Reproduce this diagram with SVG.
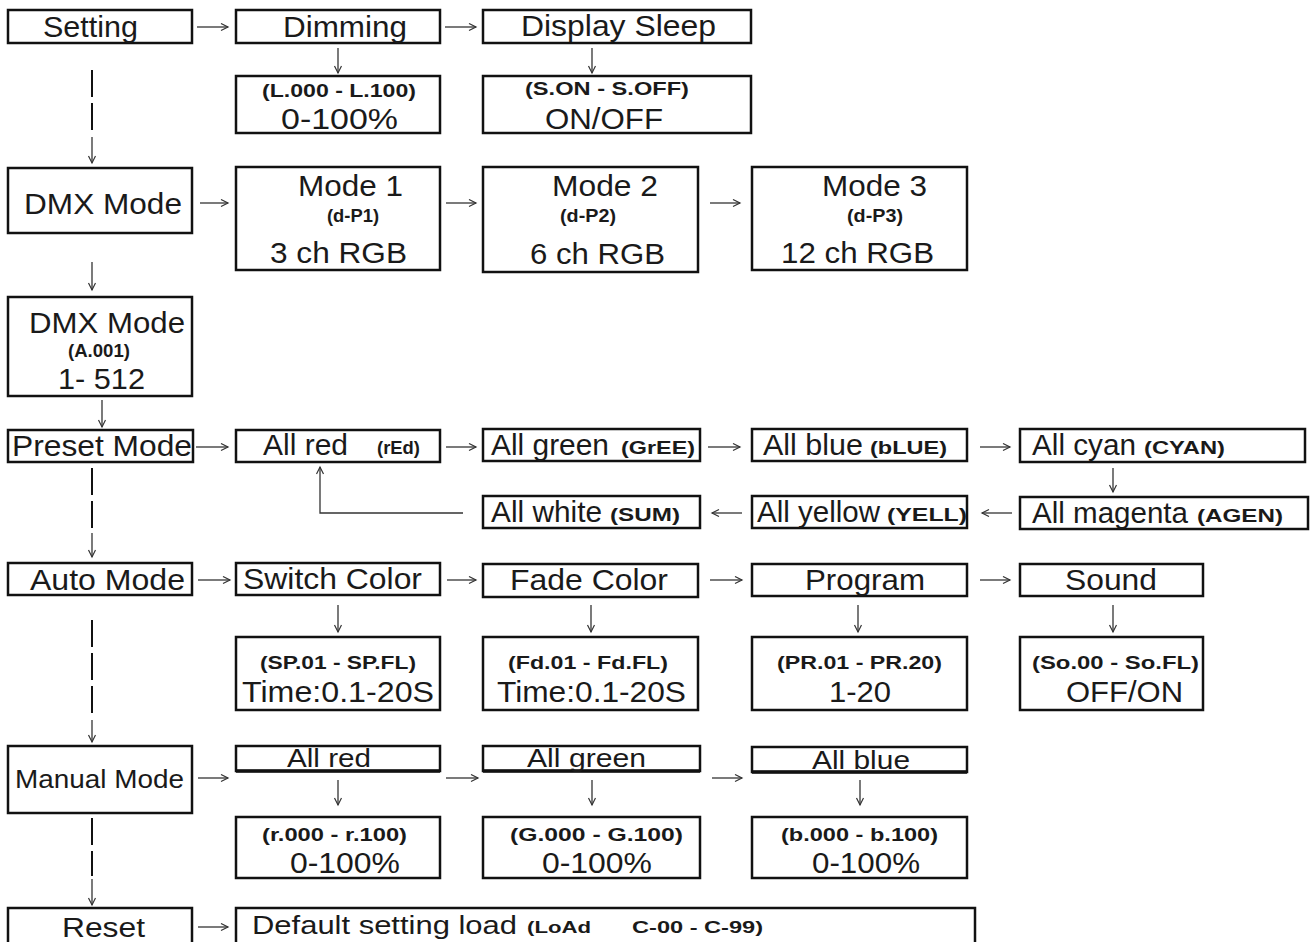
<svg xmlns="http://www.w3.org/2000/svg" width="1315" height="942" viewBox="0 0 1315 942">
<style>
.box{fill:none;stroke:#111;stroke-width:2.5}
.t{font-family:"Liberation Sans",Arial,sans-serif;font-size:29px;fill:#1a1a1a}
.b{font-family:"Liberation Sans",Arial,sans-serif;font-size:18px;font-weight:bold;fill:#1a1a1a}
.c{stroke:#333;stroke-width:1.3;fill:none}
.d{stroke:#111;stroke-width:2;fill:none;stroke-dasharray:27 6}
</style>
<defs>
<marker id="ah" markerWidth="10" markerHeight="10" refX="8" refY="4" orient="auto" markerUnits="userSpaceOnUse">
<path d="M1,0.5 L8,4 L1,7.5" fill="none" stroke="#333" stroke-width="1.2"/>
</marker>
</defs>
<rect width="1315" height="942" fill="#fff"/>

<g id="connectors" class="c">
<line x1="197" y1="27" x2="228" y2="27" marker-end="url(#ah)"/>
<line x1="445" y1="27" x2="476" y2="27" marker-end="url(#ah)"/>
<line x1="338" y1="48" x2="338" y2="73" marker-end="url(#ah)"/>
<line x1="592" y1="48" x2="592" y2="73" marker-end="url(#ah)"/>
<line class="d" x1="92" y1="70" x2="92" y2="134"/>
<line x1="92" y1="137" x2="92" y2="163" marker-end="url(#ah)"/>
<line x1="200" y1="203" x2="228" y2="203" marker-end="url(#ah)"/>
<line x1="446" y1="203" x2="476" y2="203" marker-end="url(#ah)"/>
<line x1="710" y1="203" x2="740" y2="203" marker-end="url(#ah)"/>
<line x1="92" y1="262" x2="92" y2="290" marker-end="url(#ah)"/>
<line x1="102" y1="400" x2="102" y2="427" marker-end="url(#ah)"/>
<line x1="196" y1="447" x2="228" y2="447" marker-end="url(#ah)"/>
<line x1="446" y1="447" x2="476" y2="447" marker-end="url(#ah)"/>
<line x1="708" y1="447" x2="740" y2="447" marker-end="url(#ah)"/>
<line x1="980" y1="447" x2="1010" y2="447" marker-end="url(#ah)"/>
<line x1="1113" y1="468" x2="1113" y2="492" marker-end="url(#ah)"/>
<line x1="1012" y1="513" x2="982" y2="513" marker-end="url(#ah)"/>
<line x1="742" y1="513" x2="712" y2="513" marker-end="url(#ah)"/>
<path d="M463,513 H320 V467" marker-end="url(#ah)"/>
<line class="d" x1="92" y1="468" x2="92" y2="530"/>
<line x1="92" y1="533" x2="92" y2="557" marker-end="url(#ah)"/>
<line x1="198" y1="580" x2="230" y2="580" marker-end="url(#ah)"/>
<line x1="447" y1="580" x2="476" y2="580" marker-end="url(#ah)"/>
<line x1="710" y1="580" x2="742" y2="580" marker-end="url(#ah)"/>
<line x1="980" y1="580" x2="1010" y2="580" marker-end="url(#ah)"/>
<line x1="338" y1="605" x2="338" y2="632" marker-end="url(#ah)"/>
<line x1="591" y1="605" x2="591" y2="632" marker-end="url(#ah)"/>
<line x1="858" y1="605" x2="858" y2="632" marker-end="url(#ah)"/>
<line x1="1113" y1="605" x2="1113" y2="632" marker-end="url(#ah)"/>
<line class="d" x1="92" y1="620" x2="92" y2="718"/>
<line x1="92" y1="720" x2="92" y2="742" marker-end="url(#ah)"/>
<line x1="198" y1="778" x2="228" y2="778" marker-end="url(#ah)"/>
<line x1="446" y1="778" x2="478" y2="778" marker-end="url(#ah)"/>
<line x1="712" y1="778" x2="742" y2="778" marker-end="url(#ah)"/>
<line x1="338" y1="780" x2="338" y2="805" marker-end="url(#ah)"/>
<line x1="592" y1="780" x2="592" y2="805" marker-end="url(#ah)"/>
<line x1="860" y1="780" x2="860" y2="805" marker-end="url(#ah)"/>
<line class="d" x1="92" y1="818" x2="92" y2="876"/>
<line x1="92" y1="879" x2="92" y2="905" marker-end="url(#ah)"/>
<line x1="198" y1="927" x2="228" y2="927" marker-end="url(#ah)"/>
</g>

<g id="n-setting"><rect class="box" x="8" y="10" width="184" height="33"/><text class="t" x="43" y="37" textLength="95" lengthAdjust="spacingAndGlyphs">Setting</text></g>
<g id="n-dimming"><rect class="box" x="236" y="10" width="204" height="33"/><text class="t" x="283" y="37" textLength="124" lengthAdjust="spacingAndGlyphs">Dimming</text></g>
<g id="n-sleep"><rect class="box" x="483" y="10" width="268" height="33"/><text class="t" x="521" y="36" textLength="195" lengthAdjust="spacingAndGlyphs">Display Sleep</text></g>
<g id="n-dimval"><rect class="box" x="236" y="76" width="204" height="57"/><text class="b" x="262" y="97" textLength="154" lengthAdjust="spacingAndGlyphs">(L.000 - L.100)</text><text class="t" x="281" y="129" textLength="117" lengthAdjust="spacingAndGlyphs">0-100%</text></g>
<g id="n-sleepval"><rect class="box" x="483" y="76" width="268" height="57"/><text class="b" x="525" y="95" textLength="164" lengthAdjust="spacingAndGlyphs">(S.ON - S.OFF)</text><text class="t" x="545" y="129" textLength="118" lengthAdjust="spacingAndGlyphs">ON/OFF</text></g>

<g id="n-dmx"><rect class="box" x="8" y="168" width="184" height="65"/><text class="t" x="24" y="214" textLength="158" lengthAdjust="spacingAndGlyphs">DMX Mode</text></g>
<g id="n-mode1"><rect class="box" x="236" y="167" width="204" height="103"/><text class="t" x="298" y="196" textLength="105" lengthAdjust="spacingAndGlyphs">Mode 1</text><text class="b" x="327" y="222" textLength="52" lengthAdjust="spacingAndGlyphs">(d-P1)</text><text class="t" x="270" y="263" textLength="137" lengthAdjust="spacingAndGlyphs">3 ch RGB</text></g>
<g id="n-mode2"><rect class="box" x="483" y="167" width="215" height="105"/><text class="t" x="552" y="196" textLength="106" lengthAdjust="spacingAndGlyphs">Mode 2</text><text class="b" x="560" y="222" textLength="56" lengthAdjust="spacingAndGlyphs">(d-P2)</text><text class="t" x="530" y="264" textLength="135" lengthAdjust="spacingAndGlyphs">6 ch RGB</text></g>
<g id="n-mode3"><rect class="box" x="752" y="167" width="215" height="103"/><text class="t" x="822" y="196" textLength="105" lengthAdjust="spacingAndGlyphs">Mode 3</text><text class="b" x="847" y="222" textLength="56" lengthAdjust="spacingAndGlyphs">(d-P3)</text><text class="t" x="781" y="263" textLength="153" lengthAdjust="spacingAndGlyphs">12 ch RGB</text></g>
<g id="n-addr"><rect class="box" x="8" y="297" width="184" height="99"/><text class="t" x="29" y="333" textLength="156" lengthAdjust="spacingAndGlyphs">DMX Mode</text><text class="b" x="68" y="357" textLength="62" lengthAdjust="spacingAndGlyphs">(A.001)</text><text class="t" x="58" y="389" textLength="87" lengthAdjust="spacingAndGlyphs">1- 512</text></g>

<g id="n-preset"><rect class="box" x="8" y="430" width="185" height="32"/><text class="t" x="12" y="456" textLength="180" lengthAdjust="spacingAndGlyphs">Preset Mode</text></g>
<g id="n-red"><rect class="box" x="236" y="430" width="204" height="32"/><text class="t" y="455"><tspan x="263" textLength="85" lengthAdjust="spacingAndGlyphs">All red</tspan><tspan class="b" x="377" y="454" textLength="43" lengthAdjust="spacingAndGlyphs">(rEd)</tspan></text></g>
<g id="n-green"><rect class="box" x="483" y="429" width="217" height="32"/><text class="t" y="455"><tspan x="491" textLength="118" lengthAdjust="spacingAndGlyphs">All green</tspan><tspan class="b" x="621" y="454" textLength="74" lengthAdjust="spacingAndGlyphs">(GrEE)</tspan></text></g>
<g id="n-blue"><rect class="box" x="752" y="429" width="215" height="32"/><text class="t" y="455"><tspan x="763" textLength="100" lengthAdjust="spacingAndGlyphs">All blue</tspan><tspan class="b" x="870" y="454" textLength="77" lengthAdjust="spacingAndGlyphs">(bLUE)</tspan></text></g>
<g id="n-cyan"><rect class="box" x="1020" y="429" width="285" height="33"/><text class="t" y="455"><tspan x="1032" textLength="104" lengthAdjust="spacingAndGlyphs">All cyan</tspan><tspan class="b" x="1144" y="454" textLength="81" lengthAdjust="spacingAndGlyphs">(CYAN)</tspan></text></g>
<g id="n-magenta"><rect class="box" x="1020" y="497" width="288" height="32"/><text class="t" y="523"><tspan x="1032" textLength="156" lengthAdjust="spacingAndGlyphs">All magenta</tspan><tspan class="b" x="1197" y="522" textLength="86" lengthAdjust="spacingAndGlyphs">(AGEN)</tspan></text></g>
<g id="n-yellow"><rect class="box" x="752" y="496" width="215" height="32"/><text class="t" y="522"><tspan x="757" textLength="123" lengthAdjust="spacingAndGlyphs">All yellow</tspan><tspan class="b" x="887" y="521" textLength="80" lengthAdjust="spacingAndGlyphs">(YELL)</tspan></text></g>
<g id="n-white"><rect class="box" x="483" y="496" width="217" height="32"/><text class="t" y="522"><tspan x="491" textLength="111" lengthAdjust="spacingAndGlyphs">All white</tspan><tspan class="b" x="610" y="521" textLength="70" lengthAdjust="spacingAndGlyphs">(SUM)</tspan></text></g>

<g id="n-auto"><rect class="box" x="8" y="563" width="184" height="32"/><text class="t" x="30" y="590" textLength="155" lengthAdjust="spacingAndGlyphs">Auto Mode</text></g>
<g id="n-switch"><rect class="box" x="236" y="563" width="204" height="32"/><text class="t" x="243" y="589" textLength="179" lengthAdjust="spacingAndGlyphs">Switch Color</text></g>
<g id="n-fade"><rect class="box" x="483" y="564" width="215" height="33"/><text class="t" x="510" y="590" textLength="158" lengthAdjust="spacingAndGlyphs">Fade Color</text></g>
<g id="n-program"><rect class="box" x="752" y="564" width="215" height="32"/><text class="t" x="805" y="590" textLength="120" lengthAdjust="spacingAndGlyphs">Program</text></g>
<g id="n-sound"><rect class="box" x="1020" y="564" width="183" height="32"/><text class="t" x="1065" y="590" textLength="92" lengthAdjust="spacingAndGlyphs">Sound</text></g>
<g id="n-sp"><rect class="box" x="236" y="637" width="204" height="73"/><text class="b" x="260" y="669" textLength="156" lengthAdjust="spacingAndGlyphs">(SP.01 - SP.FL)</text><text class="t" x="242" y="702" textLength="192" lengthAdjust="spacingAndGlyphs">Time:0.1-20S</text></g>
<g id="n-fd"><rect class="box" x="483" y="637" width="215" height="73"/><text class="b" x="508" y="669" textLength="160" lengthAdjust="spacingAndGlyphs">(Fd.01 - Fd.FL)</text><text class="t" x="497" y="702" textLength="189" lengthAdjust="spacingAndGlyphs">Time:0.1-20S</text></g>
<g id="n-pr"><rect class="box" x="752" y="637" width="215" height="73"/><text class="b" x="777" y="669" textLength="165" lengthAdjust="spacingAndGlyphs">(PR.01 - PR.20)</text><text class="t" x="829" y="702" textLength="62" lengthAdjust="spacingAndGlyphs">1-20</text></g>
<g id="n-so"><rect class="box" x="1020" y="637" width="183" height="73"/><text class="b" x="1032" y="669" textLength="167" lengthAdjust="spacingAndGlyphs">(So.00 - So.FL)</text><text class="t" x="1066" y="702" textLength="117" lengthAdjust="spacingAndGlyphs">OFF/ON</text></g>

<g id="n-manual"><rect class="box" x="8" y="746" width="184" height="67"/><text class="t" x="15" y="788" style="font-size:25px" textLength="169" lengthAdjust="spacingAndGlyphs">Manual Mode</text></g>
<g id="n-mred"><rect class="box" x="236" y="746" width="204" height="25"/><line x1="236" y1="771" x2="440" y2="771" stroke="#111" stroke-width="3.5"/><text class="t" x="287" y="767" style="font-size:26px" textLength="84" lengthAdjust="spacingAndGlyphs">All red</text></g>
<g id="n-mgreen"><rect class="box" x="483" y="746" width="217" height="25"/><line x1="483" y1="771" x2="700" y2="771" stroke="#111" stroke-width="3.5"/><text class="t" x="527" y="767" style="font-size:26px" textLength="119" lengthAdjust="spacingAndGlyphs">All green</text></g>
<g id="n-mblue"><rect class="box" x="752" y="747" width="215" height="25"/><line x1="752" y1="772" x2="967" y2="772" stroke="#111" stroke-width="3.5"/><text class="t" x="812" y="769" style="font-size:26px" textLength="98" lengthAdjust="spacingAndGlyphs">All blue</text></g>
<g id="n-rval"><rect class="box" x="236" y="817" width="204" height="61"/><text class="b" x="262" y="841" textLength="145" lengthAdjust="spacingAndGlyphs">(r.000 - r.100)</text><text class="t" x="290" y="873" textLength="110" lengthAdjust="spacingAndGlyphs">0-100%</text></g>
<g id="n-gval"><rect class="box" x="483" y="817" width="217" height="61"/><text class="b" x="510" y="841" textLength="173" lengthAdjust="spacingAndGlyphs">(G.000 - G.100)</text><text class="t" x="542" y="873" textLength="110" lengthAdjust="spacingAndGlyphs">0-100%</text></g>
<g id="n-bval"><rect class="box" x="752" y="817" width="215" height="61"/><text class="b" x="781" y="841" textLength="157" lengthAdjust="spacingAndGlyphs">(b.000 - b.100)</text><text class="t" x="812" y="873" textLength="108" lengthAdjust="spacingAndGlyphs">0-100%</text></g>

<g id="n-reset"><rect class="box" x="8" y="908" width="184" height="50"/><text class="t" x="62" y="937" style="font-size:27px" textLength="83" lengthAdjust="spacingAndGlyphs">Reset</text></g>
<g id="n-default"><rect class="box" x="236" y="908" width="739" height="50"/><text class="t" y="934" style="font-size:26px"><tspan x="252" textLength="265" lengthAdjust="spacingAndGlyphs">Default setting load</tspan><tspan class="b" x="527" y="933" style="font-size:16px" textLength="64" lengthAdjust="spacingAndGlyphs">(LoAd</tspan><tspan class="b" x="632" y="933" style="font-size:16px" textLength="131" lengthAdjust="spacingAndGlyphs">C-00 - C-99)</tspan></text></g>
</svg>
